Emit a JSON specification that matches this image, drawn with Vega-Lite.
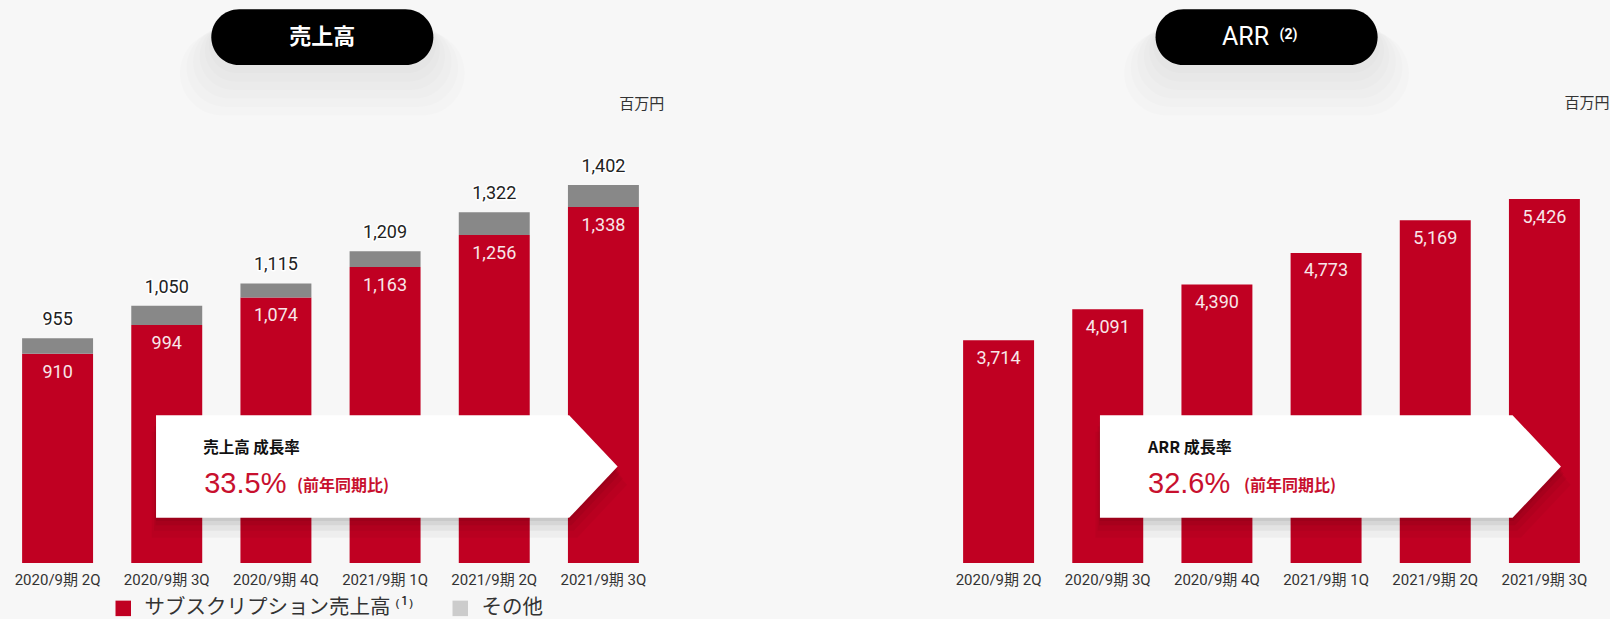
{
  "$schema": "https://vega.github.io/schema/vega-lite/v6.json",
  "background": "#f7f7f7",
  "padding": {"left": 3, "top": 0, "right": 0, "bottom": 0},
  "autosize": {"type": "pad"},
  "config": {"view": {"stroke": null}, "font": "Roboto, 'Noto Sans CJK JP', sans-serif"},
  "spacing": 279,
  "datasets": {
    "sales": [
      {"period": "2020/9期 2Q", "sub": 910, "total": 955},
      {"period": "2020/9期 3Q", "sub": 994, "total": 1050},
      {"period": "2020/9期 4Q", "sub": 1074, "total": 1115},
      {"period": "2021/9期 1Q", "sub": 1163, "total": 1209},
      {"period": "2021/9期 2Q", "sub": 1256, "total": 1322},
      {"period": "2021/9期 3Q", "sub": 1338, "total": 1402}
    ],
    "arr": [
      {"period": "2020/9期 2Q", "arr": 3714},
      {"period": "2020/9期 3Q", "arr": 4091},
      {"period": "2020/9期 4Q", "arr": 4390},
      {"period": "2021/9期 1Q", "arr": 4773},
      {"period": "2021/9期 2Q", "arr": 5169},
      {"period": "2021/9期 3Q", "arr": 5426}
    ]
  },
  "hconcat": [
    {
      "width": 655,
      "height": 563,
      "layer": [
        {
          "data": {"name": "sales"},
          "encoding": {
            "x": {"field": "period", "type": "nominal", "sort": null,
              "scale": {"paddingInner": 0.35, "paddingOuter": 0.175},
              "axis": {"title": null, "domain": false, "ticks": false, "labelAngle": 0, "labelFontSize": 15, "labelColor": "#333333", "labelPadding": 9, "labelFont": "Roboto, 'Noto Sans CJK JP'"}}
          },
          "layer": [
            {
              "mark": {"type": "bar"},
              "encoding": {
                "y": {"field": "sub", "type": "quantitative", "scale": {"domain": [300, 1941], "zero": false, "nice": false}, "axis": null},
                "y2": {"datum": 300},
                "color": {"datum": "サブスクリプション売上高 ⁽¹⁾",
                  "scale": {"domain": ["サブスクリプション売上高 ⁽¹⁾", "その他"], "range": ["#c00022", "#cccccc"]},
                  "legend": {"orient": "none", "legendX": 110, "legendY": 598, "direction": "horizontal", "columns": 2, "title": null,
                    "symbolType": "square", "symbolSize": 240, "symbolStrokeWidth": 0, "labelFontSize": 20.5, "labelFont": "'Noto Sans CJK JP', 'DejaVu Sans'",
                    "labelColor": "#333333", "labelLimit": 500, "labelOffset": 11, "columnPadding": 36, "padding": 0}
                }
              }
            },
            {
              "mark": {"type": "bar", "color": "#888888"},
              "encoding": {
                "y": {"field": "total", "type": "quantitative"},
                "y2": {"field": "sub"}
              }
            },
            {
              "mark": {"type": "text", "fontSize": 18, "dy": -18, "baseline": "middle", "stroke": "#ffffff", "strokeWidth": 3, "strokeJoin": "round", "fill": "#ffffff"},
              "encoding": {"y": {"field": "total", "type": "quantitative"}, "text": {"field": "total", "type": "quantitative", "format": ","}}
            },
            {
              "mark": {"type": "text", "fontSize": 18, "dy": -18, "baseline": "middle", "color": "#222222"},
              "encoding": {"y": {"field": "total", "type": "quantitative"}, "text": {"field": "total", "type": "quantitative", "format": ","}}
            },
            {
              "mark": {"type": "text", "fontSize": 18, "dy": 19, "baseline": "middle", "color": "#f8e6e9"},
              "encoding": {"y": {"field": "sub", "type": "quantitative"}, "text": {"field": "sub", "type": "quantitative", "format": ","}}
            }
          ]
        },
        {
          "data": {"values": [{}]},
          "encoding": {
            "x": {"datum": 0, "type": "quantitative", "scale": {"domain": [0, 100], "nice": false, "zero": false}, "axis": null},
            "y": {"datum": 0, "type": "quantitative", "scale": {"domain": [0, 100], "reverse": true, "nice": false, "zero": false}, "axis": null}
          },
          "layer": [
            {"mark": {"type": "point", "shape": "M-1,-0.2225L0.79,-0.2225L1,0L0.79,0.2225L-1,0.2225Z", "size": 226000, "filled": true, "fill": "#000000", "opacity": 0.035, "strokeWidth": 0},
             "encoding": {"x": {"datum": 59.0}, "y": {"datum": 86.1}}},
            {"mark": {"type": "point", "shape": "M-1,-0.2225L0.79,-0.2225L1,0L0.79,0.2225L-1,0.2225Z", "size": 220000, "filled": true, "fill": "#000000", "opacity": 0.045, "strokeWidth": 0},
             "encoding": {"x": {"datum": 58.85}, "y": {"datum": 85.0}}},
            {"mark": {"type": "point", "shape": "M-1,-0.2225L0.79,-0.2225L1,0L0.79,0.2225L-1,0.2225Z", "size": 216000, "filled": true, "fill": "#000000", "opacity": 0.055, "strokeWidth": 0},
             "encoding": {"x": {"datum": 58.75}, "y": {"datum": 84.1}}},
            {"mark": {"type": "point", "shape": "M-1,-0.2225L0.79,-0.2225L1,0L0.79,0.2225L-1,0.2225Z", "size": 214000, "filled": true, "fill": "#000000", "opacity": 0.06, "strokeWidth": 0},
             "encoding": {"x": {"datum": 58.65}, "y": {"datum": 83.4}}},
            {"mark": {"type": "point", "shape": "M-1,-0.2225L0.79,-0.2225L1,0L0.79,0.2225L-1,0.2225Z", "size": 213075, "filled": true, "fill": "#ffffff", "opacity": 1, "strokeWidth": 0},
             "encoding": {"x": {"datum": 58.6}, "y": {"datum": 82.86}}},
            {"mark": {"type": "text", "text": "売上高 成長率", "align": "left", "baseline": "middle", "font": "'Noto Sans CJK JP', 'DejaVu Sans'", "fontWeight": "bold", "fontSize": 15.5, "color": "#111111"},
             "encoding": {"x": {"datum": 30.56}, "y": {"datum": 79.63}}},
            {"mark": {"type": "text", "text": "33.5%", "align": "left", "baseline": "alphabetic", "font": "'Liberation Sans'", "fontSize": 29, "color": "#c8102e"},
             "encoding": {"x": {"datum": 30.72}, "y": {"datum": 87.6}}},
            {"mark": {"type": "text", "text": "(前年同期比)", "align": "left", "baseline": "alphabetic", "font": "'Noto Sans CJK JP'", "fontWeight": "bold", "fontSize": 16, "color": "#c8102e"},
             "encoding": {"x": {"datum": 44.87}, "y": {"datum": 87.2}}},
            {"mark": {"type": "rect", "cornerRadius": 46, "color": "#000000", "opacity": 0.012},
             "encoding": {"x": {"datum": 27.0}, "x2": {"datum": 70.5}, "y": {"datum": 5.5}, "y2": {"datum": 20.5}}},
            {"mark": {"type": "rect", "cornerRadius": 42, "color": "#000000", "opacity": 0.012},
             "encoding": {"x": {"datum": 28.0}, "x2": {"datum": 69.5}, "y": {"datum": 5.0}, "y2": {"datum": 19.0}}},
            {"mark": {"type": "rect", "cornerRadius": 38, "color": "#000000", "opacity": 0.012},
             "encoding": {"x": {"datum": 29.0}, "x2": {"datum": 68.5}, "y": {"datum": 4.5}, "y2": {"datum": 17.5}}},
            {"mark": {"type": "rect", "cornerRadius": 34, "color": "#000000", "opacity": 0.012},
             "encoding": {"x": {"datum": 30.0}, "x2": {"datum": 67.5}, "y": {"datum": 4.0}, "y2": {"datum": 16.0}}},
            {"mark": {"type": "rect", "cornerRadius": 31, "color": "#000000", "opacity": 0.012},
             "encoding": {"x": {"datum": 30.8}, "x2": {"datum": 66.7}, "y": {"datum": 3.5}, "y2": {"datum": 14.5}}},
            {"mark": {"type": "rect", "cornerRadius": 29, "color": "#000000", "opacity": 0.012},
             "encoding": {"x": {"datum": 31.4}, "x2": {"datum": 66.1}, "y": {"datum": 3.0}, "y2": {"datum": 13.0}}},
            {"mark": {"type": "rect", "cornerRadius": 28, "color": "#000000", "opacity": 1},
             "encoding": {"x": {"datum": 31.8}, "x2": {"datum": 65.7}, "y": {"datum": 1.65}, "y2": {"datum": 11.55}}},
            {"mark": {"type": "text", "text": "売上高", "align": "center", "baseline": "middle", "font": "'Noto Sans CJK JP'", "fontWeight": "bold", "fontSize": 22, "color": "#ffffff"},
             "encoding": {"x": {"datum": 48.75}, "y": {"datum": 6.66}}},
            {"mark": {"type": "text", "text": "百万円", "align": "right", "baseline": "middle", "font": "'Noto Sans CJK JP'", "fontSize": 15, "color": "#333333"},
             "encoding": {"x": {"datum": 100.95}, "y": {"datum": 18.47}}}
          ]
        }
      ],
      "resolve": {"scale": {"x": "independent", "y": "independent"}}
    },
    {
      "width": 655,
      "height": 563,
      "layer": [
        {
          "data": {"name": "arr"},
          "encoding": {
            "x": {"field": "period", "type": "nominal", "sort": null,
              "scale": {"paddingInner": 0.35, "paddingOuter": 0.175},
              "axis": {"title": null, "domain": false, "ticks": false, "labelAngle": 0, "labelFontSize": 15, "labelColor": "#333333", "labelPadding": 9, "labelFont": "Roboto, 'Noto Sans CJK JP'"}}
          },
          "layer": [
            {"mark": {"type": "bar", "color": "#c00022"},
             "encoding": {
               "y": {"field": "arr", "type": "quantitative", "scale": {"domain": [1016, 7838], "zero": false, "nice": false}, "axis": null},
               "y2": {"datum": 1016}
             }},
            {"mark": {"type": "text", "fontSize": 18, "dy": 18.5, "baseline": "middle", "color": "#f8e6e9"},
             "encoding": {
               "y": {"field": "arr", "type": "quantitative"},
               "text": {"field": "arr", "type": "quantitative", "format": ","}}}
          ]
        },
        {
          "data": {"values": [{}]},
          "encoding": {
            "x": {"datum": 0, "type": "quantitative", "scale": {"domain": [0, 100], "nice": false, "zero": false}, "axis": null},
            "y": {"datum": 0, "type": "quantitative", "scale": {"domain": [0, 100], "reverse": true, "nice": false, "zero": false}, "axis": null}
          },
          "layer": [
            {"mark": {"type": "point", "shape": "M-1,-0.2225L0.79,-0.2225L1,0L0.79,0.2225L-1,0.2225Z", "size": 226000, "filled": true, "fill": "#000000", "opacity": 0.035, "strokeWidth": 0},
             "encoding": {"x": {"datum": 59.4}, "y": {"datum": 86.1}}},
            {"mark": {"type": "point", "shape": "M-1,-0.2225L0.79,-0.2225L1,0L0.79,0.2225L-1,0.2225Z", "size": 220000, "filled": true, "fill": "#000000", "opacity": 0.045, "strokeWidth": 0},
             "encoding": {"x": {"datum": 59.25}, "y": {"datum": 85.0}}},
            {"mark": {"type": "point", "shape": "M-1,-0.2225L0.79,-0.2225L1,0L0.79,0.2225L-1,0.2225Z", "size": 216000, "filled": true, "fill": "#000000", "opacity": 0.055, "strokeWidth": 0},
             "encoding": {"x": {"datum": 59.15}, "y": {"datum": 84.1}}},
            {"mark": {"type": "point", "shape": "M-1,-0.2225L0.79,-0.2225L1,0L0.79,0.2225L-1,0.2225Z", "size": 214000, "filled": true, "fill": "#000000", "opacity": 0.06, "strokeWidth": 0},
             "encoding": {"x": {"datum": 59.05}, "y": {"datum": 83.4}}},
            {"mark": {"type": "point", "shape": "M-1,-0.2225L0.79,-0.2225L1,0L0.79,0.2225L-1,0.2225Z", "size": 212521, "filled": true, "fill": "#ffffff", "opacity": 1, "strokeWidth": 0},
             "encoding": {"x": {"datum": 59.0}, "y": {"datum": 82.86}}},
            {"mark": {"type": "text", "text": "ARR 成長率", "align": "left", "baseline": "middle", "font": "'Noto Sans CJK JP', 'DejaVu Sans'", "fontWeight": "bold", "fontSize": 16, "color": "#111111"},
             "encoding": {"x": {"datum": 31.15}, "y": {"datum": 79.63}}},
            {"mark": {"type": "text", "text": "32.6%", "align": "left", "baseline": "alphabetic", "font": "'Liberation Sans'", "fontSize": 29, "color": "#c8102e"},
             "encoding": {"x": {"datum": 31.15}, "y": {"datum": 87.6}}},
            {"mark": {"type": "text", "text": "(前年同期比)", "align": "left", "baseline": "alphabetic", "font": "'Noto Sans CJK JP'", "fontWeight": "bold", "fontSize": 16, "color": "#c8102e"},
             "encoding": {"x": {"datum": 45.8}, "y": {"datum": 87.2}}},
            {"mark": {"type": "rect", "cornerRadius": 46, "color": "#000000", "opacity": 0.012},
             "encoding": {"x": {"datum": 27.5}, "x2": {"datum": 71.0}, "y": {"datum": 5.5}, "y2": {"datum": 20.5}}},
            {"mark": {"type": "rect", "cornerRadius": 42, "color": "#000000", "opacity": 0.012},
             "encoding": {"x": {"datum": 28.5}, "x2": {"datum": 70.0}, "y": {"datum": 5.0}, "y2": {"datum": 19.0}}},
            {"mark": {"type": "rect", "cornerRadius": 38, "color": "#000000", "opacity": 0.012},
             "encoding": {"x": {"datum": 29.5}, "x2": {"datum": 69.0}, "y": {"datum": 4.5}, "y2": {"datum": 17.5}}},
            {"mark": {"type": "rect", "cornerRadius": 34, "color": "#000000", "opacity": 0.012},
             "encoding": {"x": {"datum": 30.5}, "x2": {"datum": 68.0}, "y": {"datum": 4.0}, "y2": {"datum": 16.0}}},
            {"mark": {"type": "rect", "cornerRadius": 31, "color": "#000000", "opacity": 0.012},
             "encoding": {"x": {"datum": 31.3}, "x2": {"datum": 67.2}, "y": {"datum": 3.5}, "y2": {"datum": 14.5}}},
            {"mark": {"type": "rect", "cornerRadius": 29, "color": "#000000", "opacity": 0.012},
             "encoding": {"x": {"datum": 31.9}, "x2": {"datum": 66.6}, "y": {"datum": 3.0}, "y2": {"datum": 13.0}}},
            {"mark": {"type": "rect", "cornerRadius": 28, "color": "#000000", "opacity": 1},
             "encoding": {"x": {"datum": 32.3}, "x2": {"datum": 66.2}, "y": {"datum": 1.65}, "y2": {"datum": 11.55}}},
            {"mark": {"type": "text", "text": "ARR", "align": "left", "baseline": "middle", "font": "Roboto", "fontSize": 25, "color": "#ffffff"},
             "encoding": {"x": {"datum": 42.44}, "y": {"datum": 6.66}}},
            {"mark": {"type": "text", "text": "(2)", "align": "left", "baseline": "middle", "font": "Roboto", "fontWeight": "bold", "fontSize": 14, "color": "#ffffff"},
             "encoding": {"x": {"datum": 51.24}, "y": {"datum": 6.3}}},
            {"mark": {"type": "text", "text": "百万円", "align": "right", "baseline": "middle", "font": "'Noto Sans CJK JP'", "fontSize": 15, "color": "#333333"},
             "encoding": {"x": {"datum": 101.6}, "y": {"datum": 18.35}}}
          ]
        }
      ],
      "resolve": {"scale": {"x": "independent", "y": "independent"}}
    }
  ]
}
